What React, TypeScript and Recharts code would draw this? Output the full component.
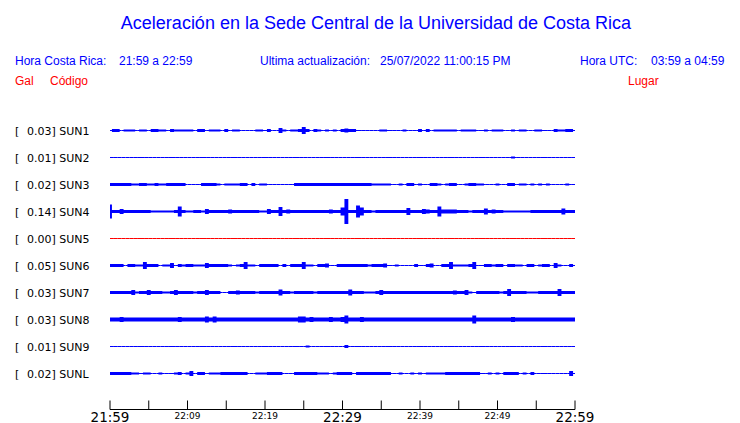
import React from 'react'
import { Area, ComposedChart, Line, XAxis, YAxis } from 'recharts'

// Station rows, top to bottom
const codes = ['SUN1', 'SUN2', 'SUN3', 'SUN4', 'SUN5', 'SUN6', 'SUN7', 'SUN8', 'SUN9', 'SUNL']
const galValues = ['0.03', '0.01', '0.02', '0.14', '0.00', '0.05', '0.03', '0.03', '0.01', '0.02']
const places = [
  'CIMAR',
  'Ingenieria P01',
  'Ingenieria P06',
  'EBCI',
  'Rectoria',
  'Agroalimentarias',
  'Archivo',
  'Electrica P06',
  'Electrica P01',
  'LANAMME-CTT'
]
const traceColors = ['#0000ff', '#0000ff', '#0000ff', '#0000ff', '#ff0000', '#0000ff', '#0000ff', '#0000ff', '#0000ff', '#0000ff']

// Time axis: minutes after 21:59, labels every 10 min, ticks every 5 min
const tickMinutes = [0, 5, 10, 15, 20, 25, 30, 35, 40, 45, 50, 55, 60]
const tickLabels = ['21:59', '', '22:09', '', '22:19', '', '22:29', '', '22:39', '', '22:49', '', '22:59']
const majorLabels = ['21:59', '22:29', '22:59']

// Envelope half-amplitude (px), one value per half minute (121 samples)
const sun1Amp = [
  0, 1.5, 1.5, 0, 1, 1, 1, 0, 1, 1,
  0, 1.5, 1.5, 1, 1, 0, 1.5, 1, 1, 1,
  1, 1, 0, 1.5, 1.5, 0, 1, 1, 1, 0,
  1.5, 0, 1, 1, 0, 0, 0, 0, 1, 1,
  0, 1.5, 0, 0, 2.5, 1, 0, 1, 1, 1.5,
  3.5, 1.5, 0, 1.5, 1, 0, 1, 0, 1, 0,
  1.5, 2, 1.5, 1.5, 0, 0, 0, 0, 0, 0,
  1, 1, 0, 0, 0, 0, 1, 0, 0, 0,
  1.5, 0, 1.5, 0, 1, 1, 1, 1, 1, 1,
  0, 1, 1, 1, 1, 0, 0, 1, 0, 1,
  1, 1, 0, 0, 1, 0, 1, 1, 0, 0,
  1, 1, 0, 0, 0, 1.5, 1, 1, 1.5, 1.5,
  0
]
const sun2Amp = [
  0, 0, 0, 0, 0, 0, 0, 0, 0, 0,
  0, 0, 0, 0, 0, 0, 0, 0, 0, 0,
  0, 0, 0, 0, 0, 0, 0, 0, 0, 0,
  0, 0, 0, 0, 0, 0, 0, 0, 0, 0,
  0, 0, 0, 0, 0, 0, 0, 0, 0, 0,
  0, 0, 0, 0, 0, 0, 0, 0, 0, 0,
  0, 0, 0, 0, 0, 0, 0, 0, 0, 0,
  0, 0, 0, 0, 0, 0, 0, 0, 0, 0,
  0, 0, 0, 0, 0, 0, 0, 0, 0, 0,
  0, 0, 0, 0, 0, 0, 0, 0, 0, 0,
  0, 0, 0, 0, 1, 0, 0, 0, 0, 0,
  0, 0, 0, 0, 0, 0, 0, 0, 0, 0,
  0
]
const sun3Amp = [
  1.5, 1.5, 1.5, 1.5, 1.5, 1.5, 1, 1, 1.5, 1.5,
  1, 1, 1.5, 1, 1, 1.5, 1.5, 1.5, 1.5, 1.5,
  0, 0, 0, 0, 1.5, 1.5, 1.5, 1.5, 1, 0,
  1, 1, 1, 1, 1.5, 1.5, 0, 1.5, 0, 1,
  1, 0, 0, 0, 0, 0, 0, 0, 1.5, 1.5,
  1.5, 1.5, 1.5, 1.5, 1.5, 1.5, 1.5, 1.5, 1.5, 1.5,
  1.5, 1.5, 1.5, 1.5, 1.5, 1.5, 1.5, 1.5, 1, 1,
  1, 1, 1, 0, 0, 1, 0, 1.5, 1.5, 0,
  1, 0, 0, 1.5, 1.5, 1, 0, 1, 1.5, 1.5,
  0, 0, 1, 1.5, 1.5, 1, 1, 0, 0, 0,
  1, 0, 0, 1.5, 1.5, 0, 1, 1, 0, 1,
  0, 1, 0, 1, 0, 0, 0, 0, 1, 0,
  0
]
const sun4Amp = [
  7, 1.5, 1.5, 2.5, 1.5, 1.5, 1.5, 1.5, 1.5, 1.5,
  1.5, 1, 1, 1, 1, 1, 1, 1.5, 5, 1.5,
  1, 1, 1.5, 1.5, 1, 2.5, 1.5, 1.5, 1.5, 1.5,
  1.5, 2, 1.5, 1.5, 1.5, 1.5, 1.5, 1.5, 1.5, 1,
  1, 2.5, 1.5, 1.5, 4.5, 1.5, 2, 1.5, 1.5, 1.5,
  1.5, 1.5, 1.5, 1.5, 1.5, 1.5, 1.5, 2, 1.5, 1.5,
  4, 12.5, 1.5, 1.5, 6, 4, 1.5, 1.5, 1, 1.5,
  1.5, 1.5, 1.5, 1.5, 1.5, 1.5, 1.5, 3.5, 1.5, 1.5,
  1.5, 2.5, 2, 1.5, 1.5, 5, 2, 2, 2, 2,
  1.5, 1.5, 1.5, 1, 1.5, 1.5, 1.5, 3, 1.5, 2,
  1.5, 1.5, 1, 1, 1, 1, 1, 1, 1, 1.5,
  1.5, 1.5, 1.5, 1.5, 1.5, 1.5, 1.5, 3, 1.5, 1.5,
  1.5
]
const sun5Amp = [
  0, 0, 0, 0, 0, 0, 0, 0, 0, 0,
  0, 0, 0, 0, 0, 0, 0, 0, 0, 0,
  0, 0, 0, 0, 0, 0, 0, 0, 0, 0,
  0, 0, 0, 0, 0, 0, 0, 0, 0, 0,
  0, 0, 0, 0, 0, 0, 0, 0, 0, 0,
  0, 0, 0, 0, 0, 0, 0, 0, 0, 0,
  0, 0, 0, 0, 0, 0, 0, 0, 0, 0,
  0, 0, 0, 0, 0, 0, 0, 0, 0, 0,
  0, 0, 0, 0, 0, 0, 0, 0, 0, 0,
  0, 0, 0, 0, 0, 0, 0, 0, 0, 0,
  0, 0, 0, 0, 0, 0, 0, 0, 0, 0,
  0, 0, 0, 0, 0, 0, 0, 0, 0, 0,
  0
]
const sun6Amp = [
  1.5, 1.5, 1.5, 1.5, 0, 1.5, 1.5, 1, 1, 3.5,
  1.5, 1.5, 1.5, 0, 1, 1, 2.5, 0, 1.5, 1,
  1.5, 1.5, 1, 1, 1, 2.5, 1.5, 1.5, 1.5, 1.5,
  1.5, 1, 0, 1, 1.5, 3.5, 1, 1, 0, 1.5,
  1.5, 1.5, 1.5, 1.5, 0, 1.5, 0, 1.5, 1.5, 1.5,
  3.5, 1, 1, 0, 1.5, 1.5, 2, 0, 0, 1.5,
  1.5, 1.5, 1.5, 1.5, 1.5, 1.5, 1.5, 1, 1.5, 1.5,
  1.5, 2, 0, 0, 1, 0, 0, 0, 0, 1.5,
  0, 0, 1.5, 2, 0, 0, 1.5, 1.5, 3.5, 1,
  1, 1, 1, 1.5, 3.5, 0, 0, 1.5, 1.5, 1,
  1.5, 1.5, 0, 1.5, 1.5, 1, 1, 0, 1.5, 1.5,
  0, 1, 1.5, 1.5, 0, 2.5, 1, 0, 0, 1.5,
  0
]
const sun7Amp = [
  1.5, 1.5, 1.5, 1.5, 1.5, 1.5, 2.5, 1, 1.5, 1.5,
  2.5, 1.5, 1.5, 1.5, 1, 1, 1.5, 2.5, 1.5, 1.5,
  1.5, 1.5, 1, 1.5, 1.5, 2.5, 1.5, 1.5, 1.5, 0,
  0, 1.5, 1.5, 2, 1.5, 1.5, 1.5, 1.5, 1, 1.5,
  1.5, 1.5, 1.5, 1.5, 3, 1.5, 1.5, 1, 1.5, 1.5,
  1.5, 1.5, 1.5, 1, 1.5, 1.5, 1.5, 1.5, 1.5, 1.5,
  1.5, 1.5, 3, 1.5, 1.5, 1.5, 1, 1, 1, 1.5,
  2.5, 1.5, 1.5, 1.5, 1.5, 1.5, 1.5, 1.5, 1.5, 1.5,
  1.5, 1.5, 1.5, 1.5, 1.5, 1.5, 1.5, 1.5, 1.5, 2,
  1.5, 1.5, 2.5, 1, 0.5, 1.5, 1.5, 1.5, 1.5, 1.5,
  1.5, 1, 1.5, 3.5, 1.5, 1.5, 1.5, 1.5, 1, 1,
  1, 1.5, 1.5, 1.5, 1.5, 1.5, 3.5, 1.5, 1.5, 1.5,
  1.5
]
const sun8Amp = [
  2, 2, 2, 2.5, 2, 2, 2, 2, 2, 2,
  2, 2, 2, 2, 2, 2, 2, 2, 2.5, 2,
  2, 2, 2, 2, 2, 3, 2, 3, 2, 2,
  2, 2, 2, 2, 2, 2, 2, 2, 2, 2,
  2, 2, 2, 2, 2, 2, 2, 2, 2, 3,
  3, 2, 2.5, 2, 2, 2, 2, 2.5, 2, 2,
  2.5, 4, 2, 2, 2, 2.5, 2, 2, 2, 2,
  2, 2, 2, 2, 2, 2, 2, 2, 2, 2,
  2, 2, 2, 2, 2, 2, 2, 2, 2, 2,
  2, 2, 2, 2, 4, 2, 2, 2, 2, 2,
  2, 2, 2, 2, 2.5, 2, 2, 2, 2, 2,
  2, 2, 2, 2, 2, 2, 2, 2, 2, 2,
  2
]
const sun9Amp = [
  0, 0, 0, 0, 0, 0, 0, 0, 0, 0,
  0, 0, 0, 0, 0, 0, 0, 0, 0, 0,
  0, 0, 0, 0, 0, 0, 0, 0, 0, 0,
  0, 0, 0, 0, 0, 0, 0, 0, 0, 0,
  0, 0, 0, 0, 0, 0, 0, 0, 0, 0,
  0, 1, 0, 0, 0, 0, 0, 0, 0, 0,
  0, 1.5, 0, 0, 0, 0, 0, 0, 0, 0,
  0, 0, 0, 0, 0, 0, 0, 0, 0, 0,
  0, 0, 0, 0, 0, 0, 0, 0, 0, 0,
  0, 0, 0, 0, 0, 0, 0, 0, 0, 0,
  0, 0, 0, 0, 0, 0, 0, 0, 0, 0,
  0, 0, 0, 0, 0, 0, 0, 0, 0, 0,
  0
]
const sunLAmp = [
  1.5, 1.5, 1.5, 1.5, 1.5, 1.5, 1, 1, 0, 1,
  1, 0, 0, 1, 0, 0, 0, 1, 1.5, 0,
  1, 2.5, 0, 1.5, 1.5, 0, 1, 1, 1, 1.5,
  1.5, 1.5, 1.5, 1.5, 1.5, 1.5, 0, 0, 1, 1,
  1, 1.5, 1.5, 1.5, 1.5, 0, 0, 0, 1.5, 1.5,
  1.5, 1.5, 1.5, 1.5, 1, 1, 1, 0, 1, 1.5,
  1.5, 1.5, 1.5, 0, 1.5, 1.5, 1.5, 1.5, 1.5, 1.5,
  1.5, 1.5, 1.5, 0, 0, 1, 0, 0, 1, 0,
  1, 0, 1, 1, 1, 1, 1, 1.5, 1.5, 1.5,
  1.5, 1.5, 1.5, 1.5, 1.5, 1.5, 0, 0, 1, 0,
  1, 0, 1.5, 1.5, 1.5, 1.5, 0, 1, 0, 1.5,
  0, 0, 0, 0, 0, 0, 0, 0, 0, 2.5,
  0
]

const amplitudes = [sun1Amp, sun2Amp, sun3Amp, sun4Amp, sun5Amp, sun6Amp, sun7Amp, sun8Amp, sun9Amp, sunLAmp]

const W = 740
const H = 423
const ROW_PX = 27 // vertical px per row unit
const rowValue = (i: number) => codes.length - i // SUN1 -> 10 ... SUNL -> 1
const rowTicks = codes.map((_, i) => rowValue(i))

const table = sun1Amp.map((_, k) => {
  const row: Record<string, number | number[]> = { t: k / 2 }
  codes.forEach((code, i) => {
    const a = amplitudes[i][k] / ROW_PX
    const base = rowValue(i)
    row[code] = [base - a, base + a]
    row[`${code}_base`] = base
  })
  return row
})

const monoFont = '"DejaVu Sans", Verdana, sans-serif'
const headFont = '"Liberation Sans", Arial, Helvetica, sans-serif'

function LeftLabel(props: { y?: number; payload?: { value?: number } }) {
  const idx = codes.length - Number(props.payload?.value ?? 0)
  if (idx < 0 || idx >= codes.length) return null
  const y = (props.y ?? 0) + 4
  return (
    <g fontFamily={monoFont} fontSize={11} fill="#000">
      <text x={15} y={y}>[</text>
      <text x={27} y={y}>{`${galValues[idx]}] ${codes[idx]}`}</text>
    </g>
  )
}

function RightLabel(props: { y?: number; payload?: { value?: number } }) {
  const idx = codes.length - Number(props.payload?.value ?? 0)
  if (idx < 0 || idx >= codes.length) return null
  return (
    <text x={587} y={(props.y ?? 0) + 4} fontFamily={monoFont} fontSize={11} fill="#000">
      {places[idx]}
    </text>
  )
}

function TimeTick(props: { x?: number; y?: number; payload?: { value?: number } }) {
  const x = props.x ?? 0
  const y = props.y ?? 0
  const label = tickLabels[tickMinutes.indexOf(props.payload?.value ?? -1)] || ''
  const major = majorLabels.includes(label)
  return (
    <g>
      <line x1={x} x2={x} y1={y - 9} y2={y} stroke="#000" strokeWidth={1} />
      {label ? (
        <text
          x={x}
          y={y + (major ? 12 : 9)}
          textAnchor="middle"
          fontFamily={monoFont}
          fontSize={major ? 13.5 : 9}
          fill="#000"
        >
          {label}
        </text>
      ) : null}
    </g>
  )
}

export default function App() {
  return (
    <div style={{ position: 'absolute', left: 0, top: 0, width: W, height: H, background: '#fff', overflow: 'hidden' }}>
      <svg width={W} height={H} style={{ position: 'absolute', left: 0, top: 0 }}>
        <text x={376} y={29} textAnchor="middle" fontFamily={headFont} fontSize={18} fill="#0000ff">
          Aceleración en la Sede Central de la Universidad de Costa Rica
        </text>
        <g fontFamily={headFont} fontSize={12} fill="#0000ff">
          <text x={15} y={65}>Hora Costa Rica:</text>
          <text x={119} y={65}>21:59 a 22:59</text>
          <text x={260} y={65}>Ultima actualización:</text>
          <text x={380} y={65}>25/07/2022 11:00:15 PM</text>
          <text x={580} y={65}>Hora UTC:</text>
          <text x={651} y={65}>03:59 a 04:59</text>
        </g>
        <g fontFamily={headFont} fontSize={12} fill="#ff0000">
          <text x={15} y={85}>Gal</text>
          <text x={50} y={85}>Código</text>
          <text x={628} y={85}>Lugar</text>
        </g>
      </svg>
      <div style={{ position: 'absolute', left: 0, top: 0 }}>
        <ComposedChart width={W} height={H} data={table} margin={{ top: 103.5, right: 164, bottom: 0, left: 109 }}>
          <XAxis
            dataKey="t"
            type="number"
            domain={[0, 60]}
            ticks={tickMinutes}
            interval={0}
            height={13.5}
            tickSize={0}
            tickMargin={0}
            tickLine={false}
            axisLine={{ stroke: '#000', strokeWidth: 1 }}
            tick={(p: any) => <TimeTick {...p} />}
          />
          <YAxis
            yAxisId="rows"
            type="number"
            domain={[-1 / 3, 11]}
            ticks={rowTicks}
            interval={0}
            width={1}
            axisLine={false}
            tickLine={false}
            tick={(p: any) => <LeftLabel {...p} />}
          />
          <YAxis
            yAxisId="places"
            orientation="right"
            type="number"
            domain={[-1 / 3, 11]}
            ticks={rowTicks}
            interval={0}
            width={1}
            axisLine={false}
            tickLine={false}
            tick={(p: any) => <RightLabel {...p} />}
          />
          {codes.map((code, i) => (
            <Line
              key={`base-${code}`}
              yAxisId="rows"
              dataKey={`${code}_base`}
              type="linear"
              stroke={traceColors[i]}
              strokeWidth={1}
              dot={false}
              activeDot={false}
              isAnimationActive={false}
            />
          ))}
          {codes.map((code, i) => (
            <Area
              key={code}
              yAxisId="rows"
              dataKey={code}
              type="step"
              stroke="none"
              fill={traceColors[i]}
              fillOpacity={1}
              dot={false}
              activeDot={false}
              isAnimationActive={false}
            />
          ))}
        </ComposedChart>
      </div>
    </div>
  )
}
